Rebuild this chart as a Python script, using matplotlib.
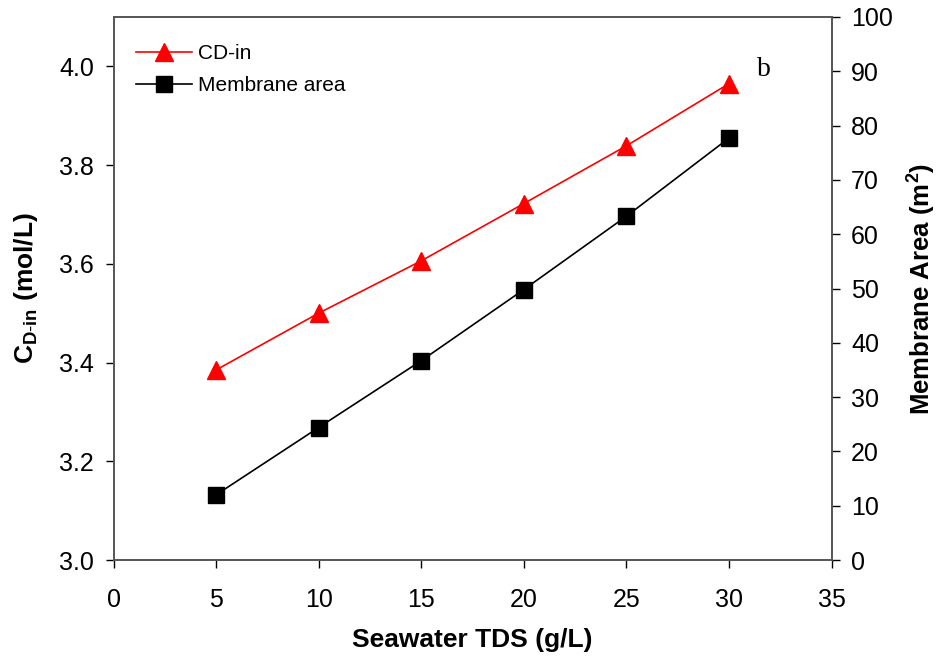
import numpy as np
import matplotlib.pyplot as plt

plt.rcParams['font.family'] = ['Liberation Sans', 'DejaVu Sans']
plt.rcParams['mathtext.fontset'] = 'custom'
plt.rcParams['mathtext.rm'] = 'Liberation Sans'
plt.rcParams['mathtext.bf'] = 'Liberation Sans:bold'

# Seawater TDS (g/L)
tds = [5, 10, 15, 20, 25, 30]
# Draw solution inlet concentration (mol/L)
cd_in = [3.385, 3.50, 3.606, 3.722, 3.839, 3.965]
# Membrane area (m2)
area = [12.0, 24.4, 36.7, 49.8, 63.3, 77.7]

fig = plt.figure(figsize=(9.46, 6.65), dpi=100)
ax = fig.add_axes([113.5 / 946, 1 - 560 / 665, 718 / 946, 543 / 665])
ax2 = ax.twinx()

l1, = ax.plot(tds, cd_in, color='red', lw=1.2, marker='^', ms=13,
              label='CD-in')
l2, = ax2.plot(tds, area, color='black', lw=1.2, marker='s', ms=11,
               label='Membrane area')

ax.set_xlim(0, 35)
ax.set_xticks(np.arange(0, 36, 5))
ax.set_ylim(3.0, 4.1)
ax.set_yticks([3.0, 3.2, 3.4, 3.6, 3.8, 4.0])
ax.set_yticklabels(['3.0', '3.2', '3.4', '3.6', '3.8', '4.0'])
ax2.set_ylim(0, 100)
ax2.set_yticks(np.arange(0, 101, 10))

for a in (ax, ax2):
    a.tick_params(direction='out', length=6, width=1, labelsize=18,
                  colors='black')
    for s in a.spines.values():
        s.set_color('#555555')
        s.set_linewidth(1.2)
ax.tick_params(axis='x', pad=14)
ax.tick_params(axis='y', pad=8)
ax2.tick_params(axis='y', pad=8)

ax.set_xlabel('Seawater TDS (g/L)', fontsize=19, fontweight='bold',
              labelpad=12)
ax.set_ylabel(r'$\mathbf{C}_{\mathbf{D\text{-}in}}$ (mol/L)', fontsize=19,
              fontweight='bold', labelpad=14)
ax2.set_ylabel('Membrane Area (m$^\\mathbf{2}$)', fontsize=18.5,
               fontweight='bold', labelpad=8)

ax.legend([l1, l2], ['CD-in', 'Membrane area'], loc='upper left',
          bbox_to_anchor=(0.005, 0.985), frameon=False, fontsize=15,
          handlelength=2.7, handletextpad=0.3, labelspacing=0.65)

ax.text(0.896, 0.891, 'b', transform=ax.transAxes, fontsize=20,
        family='Liberation Serif')

fig.savefig('out.png', dpi=100)
